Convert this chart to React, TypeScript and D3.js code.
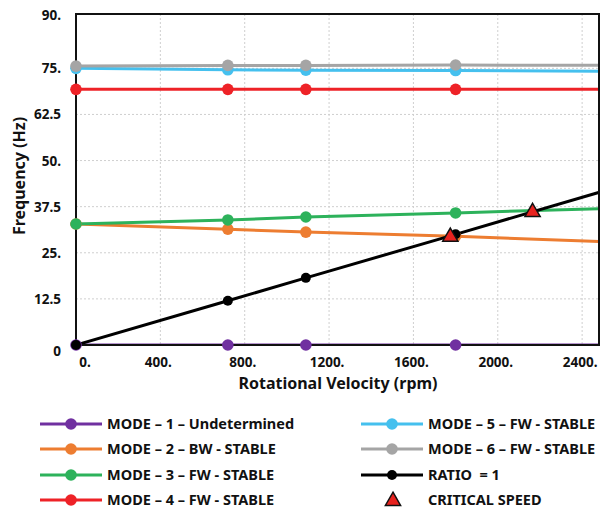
import * as d3 from 'd3';
import { useEffect, useRef } from 'react';

// rotational velocity (rpm) at which modes were solved; last one runs past the axis end
const rpm = [0, 720, 1090, 1800, 2500];

const mode1 = [0, 0, 0, 0, 0];
const mode2 = [32.8, 31.4, 30.6, 29.5, 28.0];
const mode3 = [32.8, 33.9, 34.7, 35.8, 37.0];
const mode4 = [69.3, 69.3, 69.3, 69.3, 69.3];
const mode5 = [75.0, 74.6, 74.5, 74.4, 74.2];
const mode6 = [75.6, 75.8, 75.8, 75.9, 75.8];
const ratio = [0, 12, 18.2, 30, 41.7];

const critRpm = [1775, 2165];
const critFreq = [29.6, 36.3];

const yTicks = [0, 12.5, 25, 37.5, 50, 62.5, 75, 90];
const yTickLabels = ['0', '12.5', '25.', '37.5', '50.', '62.5', '75.', '90.'];
const xTicks = [0, 400, 800, 1200, 1600, 2000, 2400];
const xTickLabels = ['0.', '400.', '800.', '1200.', '1600.', '2000.', '2400.'];

const seriesNames = [
    'MODE – 1 – Undetermined',
    'MODE – 2 – BW - STABLE',
    'MODE – 3 – FW - STABLE',
    'MODE – 4 – FW - STABLE',
    'MODE – 5 – FW - STABLE',
    'MODE – 6 – FW - STABLE',
    'RATIO  = 1',
];
const seriesValues = [mode1, mode2, mode3, mode4, mode5, mode6, ratio];
const seriesColors = ['#7030A0', '#ED7D31', '#2DB25B', '#EE2227', '#45C0EE', '#A5A5A5', '#000000'];

export default function App() {
    const ref = useRef<HTMLDivElement>(null);

    useEffect(() => {
        const width = 613;
        const height = 512;
        const plot = { left: 76, right: 599, top: 14, bottom: 345 };
        const font = '"Noto Sans", sans-serif';

        const svg = d3
            .create('svg')
            .attr('width', width)
            .attr('height', height)
            .style('position', 'absolute')
            .style('left', '0px')
            .style('top', '0px')
            .style('background', 'white');

        const x = d3.scaleLinear().domain([0, 2480]).range([plot.left, plot.right]);
        const y = d3.scaleLinear().domain([0, 90]).range([plot.bottom, 13]);

        svg.append('defs')
            .append('clipPath')
            .attr('id', 'plotClip')
            .append('rect')
            .attr('x', plot.left)
            .attr('y', plot.top)
            .attr('width', plot.right - plot.left)
            .attr('height', plot.bottom - plot.top);

        // grid lines, dotted
        svg.append('g')
            .selectAll('line')
            .data(yTicks.filter(d => d > 0 && d < 90))
            .join('line')
            .attr('x1', plot.left)
            .attr('x2', plot.right)
            .attr('y1', d => y(d))
            .attr('y2', d => y(d))
            .attr('stroke', '#cfcfcf')
            .attr('stroke-dasharray', '2,2');

        svg.append('g')
            .selectAll('line')
            .data(xTicks.filter(d => d > 0))
            .join('line')
            .attr('x1', d => x(d))
            .attr('x2', d => x(d))
            .attr('y1', plot.top)
            .attr('y2', plot.bottom)
            .attr('stroke', '#cfcfcf')
            .attr('stroke-dasharray', '2,2');

        // tick labels
        svg.append('g')
            .selectAll('text')
            .data(yTicks)
            .join('text')
            .attr('x', 61)
            .attr('y', (d, i) => y(d) + 5 + (i === 0 ? 6 : i === yTicks.length - 1 ? 2 : 0))
            .attr('text-anchor', 'end')
            .attr('font-family', font)
            .attr('font-weight', 700)
            .attr('font-size', 13.5)
            .attr('fill', '#111')
            .text((d, i) => yTickLabels[i]);

        svg.append('g')
            .selectAll('text')
            .data(xTicks)
            .join('text')
            .attr('x', (d, i) => x(d) + (i === 0 ? 9 : -2))
            .attr('y', 367)
            .attr('text-anchor', 'middle')
            .attr('font-family', font)
            .attr('font-weight', 700)
            .attr('font-size', 13.5)
            .attr('fill', '#111')
            .text((d, i) => xTickLabels[i]);

        svg.append('text')
            .attr('x', 338)
            .attr('y', 389)
            .attr('text-anchor', 'middle')
            .attr('font-family', font)
            .attr('font-weight', 700)
            .attr('font-size', 16)
            .attr('fill', '#111')
            .text('Rotational Velocity (rpm)');

        svg.append('text')
            .attr('transform', 'translate(25,176) rotate(-90)')
            .attr('text-anchor', 'middle')
            .attr('font-family', font)
            .attr('font-weight', 700)
            .attr('font-size', 16)
            .attr('fill', '#111')
            .text('Frequency (Hz)');

        // series
        const line = d3
            .line<number>()
            .x((d, i) => x(rpm[i]))
            .y(d => y(d));

        const lines = svg.append('g').attr('clip-path', 'url(#plotClip)');
        seriesValues.forEach((vals, s) => {
            lines.append('path')
                .attr('d', line(vals))
                .attr('fill', 'none')
                .attr('stroke', seriesColors[s])
                .attr('stroke-width', 3);
        });

        // frame
        svg.append('rect')
            .attr('x', plot.left)
            .attr('y', plot.top)
            .attr('width', plot.right - plot.left)
            .attr('height', plot.bottom - plot.top)
            .attr('fill', 'none')
            .attr('stroke', '#111')
            .attr('stroke-width', 2);

        const dots = svg.append('g');
        seriesValues.forEach((vals, s) => {
            dots.selectAll(null)
                .data(vals.slice(0, 4))
                .join('circle')
                .attr('cx', (d, i) => x(rpm[i]))
                .attr('cy', d => y(d))
                .attr('r', s === 6 ? 5 : 5.8)
                .attr('fill', seriesColors[s]);
        });

        const tri = d3.symbol().type(d3.symbolTriangle).size(100);
        svg.append('g')
            .selectAll('path')
            .data(critRpm)
            .join('path')
            .attr('d', tri)
            .attr('transform', (d, i) => `translate(${x(d)},${y(critFreq[i]) + 1})`)
            .attr('fill', '#E8231F')
            .attr('stroke', '#111')
            .attr('stroke-width', 1.5);

        // legend
        const legendRows = [424, 449, 475, 500];
        const legend = svg.append('g');
        const items = seriesNames.map((name, s) => ({ name, color: seriesColors[s], s }));
        items.push({ name: 'CRITICAL SPEED', color: '#E8231F', s: 7 });
        items.forEach((it, k) => {
            const col = k < 4 ? 0 : 1;
            const row = k % 4;
            const x0 = col === 0 ? 40 : 361;
            const ly = legendRows[row];
            const g = legend.append('g');
            if (it.s < 7) {
                g.append('line')
                    .attr('x1', x0)
                    .attr('x2', x0 + 62)
                    .attr('y1', ly)
                    .attr('y2', ly)
                    .attr('stroke', it.color)
                    .attr('stroke-width', 3);
                g.append('circle')
                    .attr('cx', x0 + 31)
                    .attr('cy', ly)
                    .attr('r', it.s === 6 ? 5 : 5.8)
                    .attr('fill', it.color);
            } else {
                g.append('path')
                    .attr('d', tri)
                    .attr('transform', `translate(${x0 + 32},${ly + 1})`)
                    .attr('fill', it.color)
                    .attr('stroke', '#111')
                    .attr('stroke-width', 1.5);
            }
            g.append('text')
                .attr('x', x0 + 67)
                .attr('y', ly + 5)
                .attr('font-family', font)
                .attr('font-weight', 700)
                .attr('font-size', 14.5)
                .attr('fill', '#111')
                .style('white-space', 'pre')
                .text(it.name);
        });

        ref.current?.append(svg.node()!);
        return () => {
            svg.remove();
        };
    }, []);

    return <div ref={ref}></div>;
}
